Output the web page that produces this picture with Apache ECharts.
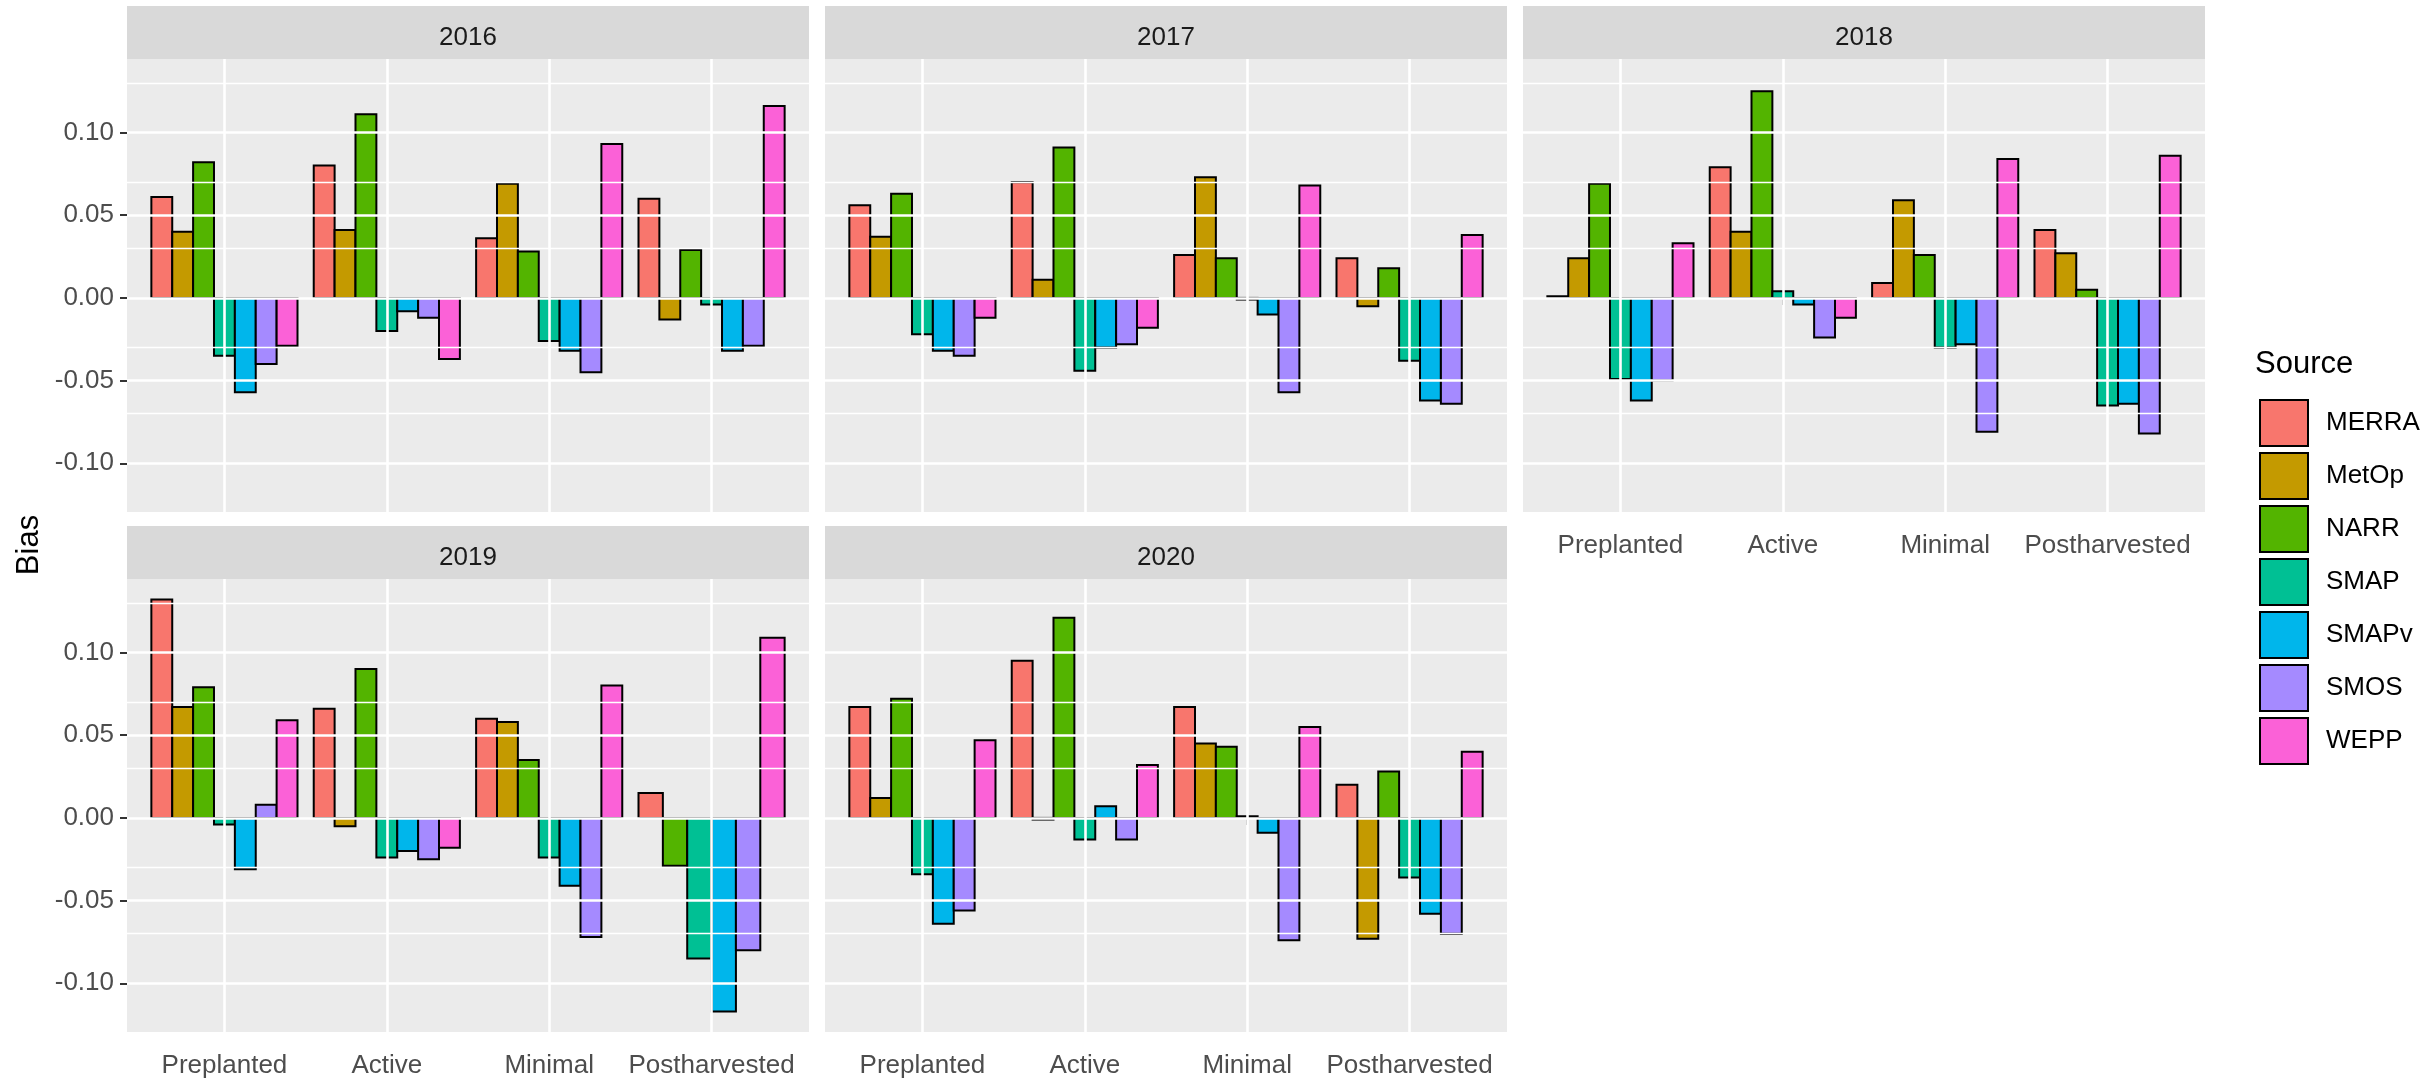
<!DOCTYPE html>
<html>
<head>
<meta charset="utf-8">
<title>Bias by growth stage and source</title>
<script src="https://cdn.jsdelivr.net/npm/echarts@6/dist/echarts.min.js"></script>
<style>
  html, body { margin: 0; padding: 0; background: #ffffff; }
  #chart { width: 2435px; height: 1079px; }
</style>
</head>
<body>
<div id="chart"></div>
<script>
// ---- data -------------------------------------------------------------
const stages  = ['Preplanted', 'Active', 'Minimal', 'Postharvested'];
const sources = ['MERRA', 'MetOp', 'NARR', 'SMAP', 'SMAPv', 'SMOS', 'WEPP'];
const years   = ['2016', '2017', '2018', '2019', '2020'];

// one row per source (order of `sources`), one column per stage (order of `stages`)
const bias2016 = [
  [ 0.061,  0.080,  0.036,  0.060],
  [ 0.040,  0.041,  0.069, -0.013],
  [ 0.082,  0.111,  0.028,  0.029],
  [-0.035, -0.020, -0.026, -0.004],
  [-0.057, -0.008, -0.032, -0.032],
  [-0.040, -0.012, -0.045, -0.029],
  [-0.029, -0.037,  0.093,  0.116]
];
const bias2017 = [
  [ 0.056,  0.070,  0.026,  0.024],
  [ 0.037,  0.011,  0.073, -0.005],
  [ 0.063,  0.091,  0.024,  0.018],
  [-0.022, -0.044, -0.001, -0.038],
  [-0.032, -0.030, -0.010, -0.062],
  [-0.035, -0.028, -0.057, -0.064],
  [-0.012, -0.018,  0.068,  0.038]
];
const bias2018 = [
  [ 0.001,  0.079,  0.009,  0.041],
  [ 0.024,  0.040,  0.059,  0.027],
  [ 0.069,  0.125,  0.026,  0.005],
  [-0.049,  0.004, -0.030, -0.065],
  [-0.062, -0.004, -0.028, -0.064],
  [-0.050, -0.024, -0.081, -0.082],
  [ 0.033, -0.012,  0.084,  0.086]
];
const bias2019 = [
  [ 0.132,  0.066,  0.060,  0.015],
  [ 0.067, -0.005,  0.058,  null ],
  [ 0.079,  0.090,  0.035, -0.029],
  [-0.004, -0.024, -0.024, -0.085],
  [-0.031, -0.020, -0.041, -0.117],
  [ 0.008, -0.025, -0.072, -0.080],
  [ 0.059, -0.018,  0.080,  0.109]
];
const bias2020 = [
  [ 0.067,  0.095,  0.067,  0.020],
  [ 0.012, -0.001,  0.045, -0.073],
  [ 0.072,  0.121,  0.043,  0.028],
  [-0.034, -0.013,  0.001, -0.036],
  [-0.064,  0.007, -0.009, -0.058],
  [-0.056, -0.013, -0.074, -0.070],
  [ 0.047,  0.032,  0.055,  0.040]
];

const yTicks = [-0.10, -0.05, 0.00, 0.05, 0.10];

// ---- look ------------------------------------------------------------
const palette = ['#F8766D', '#C49A00', '#53B400', '#00C094', '#00B6EB', '#A58AFF', '#FB61D7'];
const FONT = '"Liberation Sans", Arial, Helvetica, sans-serif';

const biasByYear = { '2016': bias2016, '2017': bias2017, '2018': bias2018, '2019': bias2019, '2020': bias2020 };

// facet geometry (pixels)
const panelW = 682;
const plotH  = 453;
const stripH = 53;
const colLeft  = [127, 825, 1523];
const stripTop = [6, 526];

const panels = years.map((year, i) => ({ year, col: i % 3, row: Math.floor(i / 3) }));
panels.forEach(p => {
  p.left = colLeft[p.col];
  p.stripTop = stripTop[p.row];
  p.top = p.stripTop + stripH;
  // x labels on the lowest panel of each column
  p.showX = !panels.some(q => q.col === p.col && q.row === p.row + 1);
  p.showY = p.col === 0;
});

// shared y range: data range padded by 5% on both ends
const allValues = years.flatMap(y => biasByYear[y].flat()).filter(v => v != null);
const vMin = Math.min(...allValues), vMax = Math.max(...allValues);
const pad = 0.05 * (vMax - vMin);
const yMin = vMin - pad, yMax = vMax + pad;

// minor grid lines halfway between major breaks
const step = yTicks[1] - yTicks[0];
const yMinor = [];
yTicks.forEach(t => [t - step / 2, t + step / 2].forEach(m => {
  const r = Math.round(m * 1000) / 1000;
  if (r > yMin && r < yMax && !yMinor.includes(r)) yMinor.push(r);
}));

const stagePos = stages.map((s, i) => i + 1);

// ---- option ----------------------------------------------------------
const grids = [], xAxes = [], yAxes = [], series = [], graphics = [];

panels.forEach((p, pi) => {
  grids.push({
    left: p.left, top: p.top, width: panelW, height: plotH,
    show: true, backgroundColor: '#EBEBEB', borderWidth: 0,
    containLabel: false, outerBoundsMode: 'none'
  });

  xAxes.push({
    type: 'value', gridIndex: pi, min: 0.4, max: 4.6,
    axisLine: { show: false },
    splitLine: { show: false },
    axisTick: {
      show: p.showX, customValues: stagePos, length: 7,
      lineStyle: { color: '#333333', width: 2 }
    },
    axisLabel: {
      show: p.showX, customValues: stagePos, margin: 21,
      formatter: v => stages[Math.round(v) - 1],
      color: '#4D4D4D', fontSize: 26, fontFamily: FONT
    }
  });

  yAxes.push({
    type: 'value', gridIndex: pi, min: yMin, max: yMax,
    axisLine: { show: false },
    splitLine: { show: false },
    axisTick: {
      show: p.showY, customValues: yTicks, length: 7,
      lineStyle: { color: '#333333', width: 2 }
    },
    axisLabel: {
      show: p.showY, customValues: yTicks, margin: 13,
      formatter: v => v.toFixed(2),
      color: '#4D4D4D', fontSize: 26, fontFamily: FONT
    }
  });

  // white panel grid lines
  const white = { color: '#FFFFFF', type: 'solid' };
  series.push({
    type: 'line', name: 'grid-' + p.year, xAxisIndex: pi, yAxisIndex: pi,
    data: [], silent: true, z: 1,
    markLine: {
      silent: true, symbol: ['none', 'none'], animation: false,
      label: { show: false }, emphasis: { disabled: true },
      lineStyle: { color: '#FFFFFF', type: 'solid', width: 2.6 },
      data: [
        ...yMinor.map(v => ({ yAxis: v, lineStyle: Object.assign({ width: 1.3 }, white) })),
        ...yTicks.map(v => ({ yAxis: v, lineStyle: Object.assign({ width: 2.6 }, white) })),
        ...stagePos.map(x => ({ xAxis: x, lineStyle: Object.assign({ width: 2.6 }, white) }))
      ]
    }
  });

  // dodged bars: each stage splits 90% of its unit among the sources present
  const rows = biasByYear[p.year];
  sources.forEach((src, si) => {
    const data = [];
    stages.forEach((st, ci) => {
      const v = rows[si][ci];
      if (v == null) return;
      const present = rows.map(r => r[ci]).map(x => x != null);
      const n = present.filter(Boolean).length;
      const slot = present.slice(0, si).filter(Boolean).length;
      data.push([ci + 1, v, slot, n]);
    });
    series.push({
      type: 'custom', name: src, xAxisIndex: pi, yAxisIndex: pi, z: 3,
      dimensions: ['stage', 'bias', 'slot', 'count'],
      encode: { x: 0, y: 1 },
      itemStyle: { color: palette[si], borderColor: '#000000', borderWidth: 2 },
      data,
      renderItem: (params, api) => {
        const x = api.value(0), v = api.value(1), slot = api.value(2), n = api.value(3);
        const unit = api.size([1, 0])[0];
        const w = 0.9 * unit / n;
        const base = api.coord([x, 0]);
        const tip = api.coord([x, v]);
        const left = base[0] - 0.45 * unit + slot * w;
        return {
          type: 'rect',
          shape: { x: left, y: Math.min(base[1], tip[1]), width: w, height: Math.abs(tip[1] - base[1]) },
          style: { fill: palette[si], stroke: '#000000', lineWidth: 2 }
        };
      }
    });
  });

  // facet strip
  graphics.push({
    type: 'rect', silent: true,
    shape: { x: p.left, y: p.stripTop, width: panelW, height: stripH },
    style: { fill: '#D9D9D9' }
  });
  graphics.push({
    type: 'text', silent: true,
    x: p.left + panelW / 2, y: p.stripTop + stripH / 2 + 5,
    style: {
      text: p.year, fill: '#1A1A1A', font: '26px ' + FONT,
      textAlign: 'center', textVerticalAlign: 'middle'
    }
  });
});

// axis title and legend title
graphics.push({
  type: 'text', silent: true, x: 29, y: 545, rotation: Math.PI / 2,
  style: { text: 'Bias', fill: '#000000', font: '31px ' + FONT, textAlign: 'center', textVerticalAlign: 'middle' }
});
graphics.push({
  type: 'text', silent: true, x: 2255, y: 364,
  style: { text: 'Source', fill: '#000000', font: '31px ' + FONT, textAlign: 'left', textVerticalAlign: 'middle' }
});

const option = {
  animation: false,
  backgroundColor: '#FFFFFF',
  grid: grids,
  xAxis: xAxes,
  yAxis: yAxes,
  legend: {
    data: sources,
    orient: 'vertical',
    left: 2254, top: 394,
    itemWidth: 48, itemHeight: 46, itemGap: 5,
    icon: 'rect',
    selectedMode: false,
    itemStyle: { borderColor: '#000000', borderWidth: 2 },
    textStyle: { fontSize: 26, fontFamily: FONT, color: '#000000', padding: [0, 0, 0, 13] }
  },
  graphic: graphics,
  series
};

const chart = echarts.init(document.getElementById('chart'), null, { renderer: 'canvas' });
chart.setOption(option);
</script>
</body>
</html>
